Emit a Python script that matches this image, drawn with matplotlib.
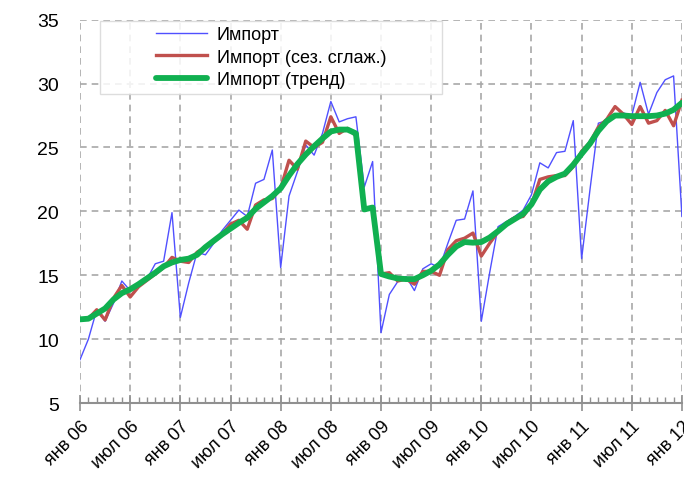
import numpy as np
import matplotlib
matplotlib.use("Agg")
import matplotlib.pyplot as plt
import matplotlib.transforms as mtransforms
from matplotlib.patches import Rectangle
from matplotlib.ticker import MultipleLocator

plt.rcParams['font.family'] = ['Liberation Sans', 'DejaVu Sans']

# =====================================================
# Данные (месяцы янв 06 - янв 12)
# =====================================================

import_raw = [
    8.4, 10.0, 12.3, 11.4, 12.8, 14.55, 13.8, 14.4, 14.7, 15.9, 16.1, 19.9,
    11.7, 14.4, 16.8, 16.6, 17.5, 18.5, 19.3, 20.1, 19.6, 22.2, 22.5, 24.8,
    15.6, 21.2, 23.1, 25.2, 24.4, 26.1, 28.6, 27.0, 27.25, 27.4, 21.9, 23.9,
    10.5, 13.5, 14.5, 14.9, 13.8, 15.5, 15.9, 15.6, 17.5, 19.3, 19.4, 21.6,
    11.4, 15.2, 18.8, 19.2, 19.6, 20.1, 21.3, 23.8, 23.4, 24.6, 24.7, 27.1,
    16.3, 21.7, 26.9, 27.1, 27.6, 27.7, 27.5, 30.1, 27.6, 29.3, 30.3, 30.6,
    19.6,
]

import_sa = [
    11.5, 11.6, 12.3, 11.5, 13.2, 14.2, 13.3, 14.1, 14.6, 15.1, 15.6, 16.4,
    16.1, 16.0, 16.8, 17.2, 17.7, 18.2, 19.0, 19.3, 18.6, 20.5, 20.9, 21.0,
    21.8, 24.0, 23.3, 25.5, 25.0, 25.4, 27.4, 26.1, 26.5, 25.9, 20.2, 20.3,
    15.1, 15.2, 14.55, 14.7, 14.3, 15.3, 15.3, 15.0, 17.0, 17.7, 17.9, 18.3,
    16.5, 17.5, 18.4, 19.1, 19.5, 19.6, 20.5, 22.5, 22.7, 22.8, 22.8, 23.5,
    24.7, 25.4, 26.6, 27.2, 28.2, 27.6, 26.8, 28.2, 26.9, 27.1, 27.9, 26.7,
    28.7,
]

import_trend = [
    11.55, 11.6, 12.0, 12.4, 13.1, 13.6, 13.9, 14.3, 14.75, 15.2, 15.7, 16.0,
    16.2, 16.3, 16.6, 17.2, 17.7, 18.2, 18.65, 19.1, 19.5, 20.2, 20.7, 21.2,
    21.8, 22.8, 23.7, 24.45, 25.1, 25.7, 26.25, 26.4, 26.4, 26.1, 20.15, 20.3,
    15.1, 14.9, 14.75, 14.7, 14.7, 15.0, 15.35, 15.85, 16.6, 17.25, 17.6, 17.55,
    17.6, 17.95, 18.45, 19.0, 19.4, 19.8, 20.55, 21.7, 22.35, 22.7, 22.95, 23.65,
    24.5, 25.3, 26.3, 27.05, 27.5, 27.5, 27.45, 27.45, 27.45, 27.5, 27.65, 27.95,
    28.5,
]

tick_labels = [
    "янв 06", "июл 06", "янв 07", "июл 07", "янв 08", "июл 08", "янв 09",
    "июл 09", "янв 10", "июл 10", "янв 11", "июл 11", "янв 12",
]

months = np.arange(len(import_raw))

# =====================================================
# Графики
# =====================================================

fig = plt.figure(figsize=(6.84, 4.81), dpi=100)
ax = fig.add_axes([0.117, 0.16, 0.88, 0.797])

ax.plot(months, import_raw, color="#5050ff", linewidth=1.0, label="Импорт")
ax.plot(months, import_sa, color="#c0504d", linewidth=2.4,
        label="Импорт (сез. сглаж.)")
ax.plot(months, import_trend, color="#10b050", linewidth=4.2,
        solid_capstyle="round", label="Импорт (тренд)")

ax.set_xlim(0, 72)
ax.set_ylim(5, 35)

ax.set_xticks(np.arange(0, 73, 6))
ax.set_xticklabels(tick_labels, rotation=45, ha="right",
                   rotation_mode="anchor", fontsize=13)
shift = mtransforms.ScaledTranslation(4 / 72, 0, fig.dpi_scale_trans)
for lbl in ax.get_xticklabels():
    lbl.set_transform(lbl.get_transform() + shift)

ax.xaxis.set_minor_locator(MultipleLocator(1))
ax.yaxis.set_major_locator(MultipleLocator(5))

ax.tick_params(axis="x", which="major", direction="inout", length=12,
               width=1.2, color="#909090", pad=4)
ax.tick_params(axis="x", which="minor", direction="in", length=4,
               width=1.0, color="#909090")
ax.tick_params(axis="y", length=0, pad=15, labelsize=14)

for side in ["top", "right", "left"]:
    ax.spines[side].set_visible(False)
ax.spines["bottom"].set_color("#909090")
ax.spines["bottom"].set_linewidth(1.5)

ax.grid(True, which="major", linestyle=(0, (4, 3)), color="#a8a8a8",
        linewidth=1.2)
ax.set_axisbelow(True)

# рамка легенды (записи по центру)
ax.add_patch(Rectangle((0.033, 0.807), 0.569, 0.19, transform=ax.transAxes,
                       facecolor="white", alpha=0.85, edgecolor="#d8d8d8",
                       linewidth=1.0, zorder=5))
leg = ax.legend(loc="center", bbox_to_anchor=(0.3175, 0.902), fontsize=13,
                handlelength=2.8, handletextpad=0.55, labelspacing=0.3,
                borderpad=0.2, frameon=False)
leg.set_zorder(6)

fig.savefig("out.png", dpi=100)
